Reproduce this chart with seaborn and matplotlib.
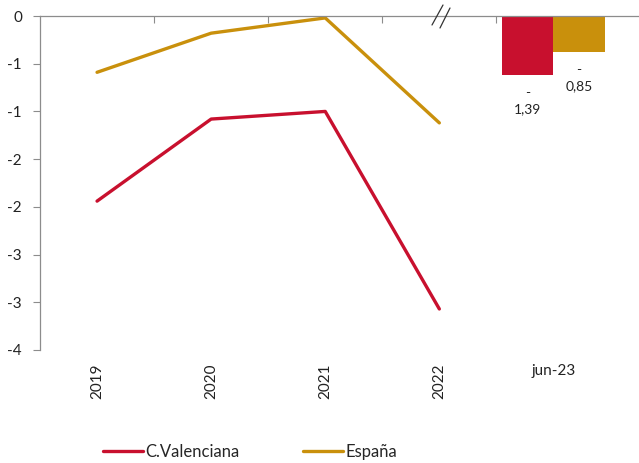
import numpy as np
import pandas as pd
import seaborn as sns
import matplotlib.pyplot as plt
from matplotlib.lines import Line2D
from matplotlib.ticker import FixedLocator

# ── datos ────────────────────────────────────────────────────────────────
years       = ["2019", "2020", "2021", "2022"]
cvalenciana = [-1.94, -1.08, -1.00, -3.07]
espana      = [-0.59, -0.18, -0.02, -1.12]

bar_cat     = "jun-23"
bar_series  = ["C.Valenciana", "España"]
bar_values  = [-1.39, -0.85]
bar_texts   = ["-\n1,39", "-\n0,85"]

ytick_vals   = [0, -0.5, -1, -1.5, -2, -2.5, -3, -3.5]
ytick_labels = ["0", "-1", "-1", "-2", "-2", "-3", "-3", "-4"]

colors = {"C.Valenciana": "#C8102E", "España": "#C9900C"}

# ── estilo ───────────────────────────────────────────────────────────────
sns.set_theme(style="white")
plt.rcParams["font.family"] = ["Lato", "DejaVu Sans"]
FS = 11

W, H = 639, 463
fig = plt.figure(figsize=(W / 100, H / 100), dpi=100)
ax = fig.add_axes([40 / W, (H - 350) / H, (W - 40) / W, 334 / H])

# ── líneas ───────────────────────────────────────────────────────────────
df_lines = pd.DataFrame({
    "pos": list(range(len(years))) * 2,
    "valor": cvalenciana + espana,
    "serie": ["C.Valenciana"] * len(years) + ["España"] * len(years),
})
sns.lineplot(data=df_lines, x="pos", y="valor", hue="serie", palette=colors,
             linewidth=2.4, ax=ax, legend=True)
handles, labels = ax.get_legend_handles_labels()
ax.get_legend().remove()

# ── barras jun-23 (eje secundario) ───────────────────────────────────────
ax2 = ax.twinx()
df_bar = pd.DataFrame({"pos": [len(years)] * 2, "valor": bar_values,
                       "serie": bar_series})
sns.barplot(data=df_bar, x="pos", y="valor", hue="serie", palette=colors,
            native_scale=True, width=0.9, saturation=1, linewidth=0,
            legend=False, ax=ax2)
for cont, txt in zip(ax2.containers, bar_texts):
    ax2.bar_label(cont, labels=[txt], padding=9, fontsize=10,
                  color="#222222", linespacing=1.4)
ax2.set_ylim(-7.93, 0)
ax2.set_yticks([])
ax2.set_ylabel("")
ax2.set_xlabel("")
for s in ax2.spines.values():
    s.set_visible(False)

# ── ejes ─────────────────────────────────────────────────────────────────
ax.set_xlim(-0.5, 4.75)
ax.set_ylim(-3.5, 0)
ax.set_yticks(ytick_vals, ytick_labels)
ax.set_xticks(range(len(years) + 1), years + [bar_cat])
for lbl in ax.get_xticklabels()[:len(years)]:
    lbl.set_rotation(90)
ax.xaxis.set_minor_locator(FixedLocator([0.5, 1.5, 2.5, 3.5]))
ax.tick_params(axis="x", which="major", length=0, pad=10, labelsize=FS,
               colors="#222222")
ax.tick_params(axis="x", which="minor", top=True, bottom=False,
               direction="in", length=5, width=0.8, color="#8c8c8c")
ax.tick_params(axis="y", left=True, direction="out", length=5, width=0.8,
               color="#8c8c8c", labelsize=FS, labelcolor="#222222", pad=8)
ax.set_xlabel("")
ax.set_ylabel("")
for side in ["right", "bottom"]:
    ax.spines[side].set_visible(False)
for side in ["top", "left"]:
    ax.spines[side].set_color("#8c8c8c")
    ax.spines[side].set_linewidth(0.9)
ax.set_zorder(ax2.get_zorder() + 1)
ax.patch.set_visible(False)

# marca de corte "//"
for x0, y0, x1, y1 in [(432, 25, 443, 5), (440, 28, 450, 8)]:
    fig.add_artist(Line2D([x0 / W, x1 / W], [1 - y0 / H, 1 - y1 / H],
                          color="#333333", linewidth=0.9))

# ── leyenda ──────────────────────────────────────────────────────────────
fig.legend(handles, labels, loc="center left", bbox_to_anchor=(103 / W, 1 - 452 / H),
           ncol=2, frameon=False, fontsize=12, handlelength=2.4,
           handletextpad=0.15, columnspacing=3.8, borderpad=0, borderaxespad=0)

fig.savefig("out.png", dpi=100)
